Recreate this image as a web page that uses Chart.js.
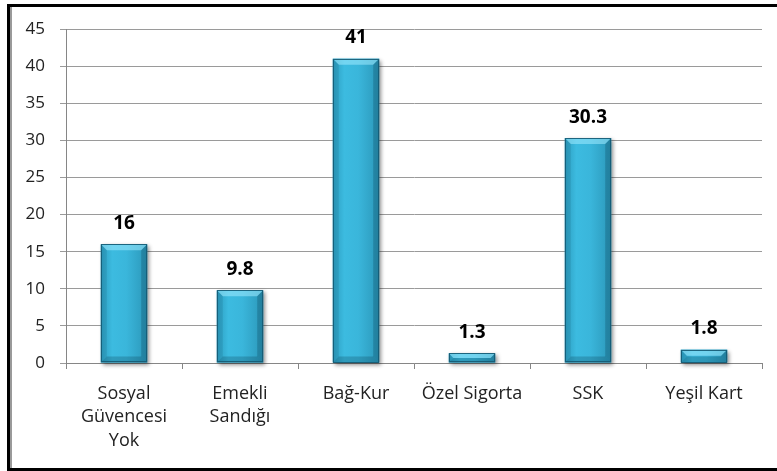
<!DOCTYPE html>
<html><head><meta charset="utf-8">
<script src="https://cdn.jsdelivr.net/npm/chart.js@4/dist/chart.umd.min.js"></script>
<style>html,body{margin:0;padding:0;background:#fff;overflow:hidden}#wrap{position:relative;width:777px;height:471px}canvas{display:block}</style>
</head><body><div id="wrap"><canvas id="c" width="777" height="471"></canvas></div>
<script>
const categories = [['Sosyal', 'Güvencesi', 'Yok'], ['Emekli', 'Sandığı'], 'Bağ-Kur', 'Özel Sigorta', 'SSK', 'Yeşil Kart'];
const values = [16, 9.8, 41, 1.3, 30.3, 1.8];
const valueLabels = ['16', '9.8', '41', '1.3', '30.3', '1.8'];
const yMin = 0, yMax = 45, yStep = 5;

const FONT = "'Open Sans', 'DejaVu Sans', sans-serif";
const BAR_PCT = 0.4;

function barGeom(chart, i) {
  const el = chart.getDatasetMeta(0).data[i];
  return { left: el.x - el.width / 2, right: el.x + el.width / 2, top: el.y, bottom: el.base, x: el.x };
}

const decor = {
  id: 'decor',
  beforeDraw(chart) {
    const c = chart.ctx; c.save(); c.fillStyle = '#fff'; c.fillRect(0, 0, chart.width, chart.height); c.restore();
  },
  beforeDatasetsDraw(chart) {
    const c = chart.ctx; c.save();
    values.forEach((v, i) => {
      const g = barGeom(chart, i);
      c.shadowColor = 'rgba(0,0,0,0.45)'; c.shadowBlur = 4; c.shadowOffsetX = 2; c.shadowOffsetY = 2;
      c.fillStyle = '#2a8fb0';
      c.fillRect(g.left, g.top, g.right - g.left, g.bottom - g.top);
    });
    c.restore();
  },
  afterDatasetsDraw(chart) {
    const c = chart.ctx; c.save();
    values.forEach((v, i) => {
      const g = barGeom(chart, i);
      const h = g.bottom - g.top, w = g.right - g.left;
      const b = Math.min(6, h / 2, w / 2);
      c.beginPath(); c.moveTo(g.left, g.top); c.lineTo(g.right, g.top); c.lineTo(g.right - b, g.top + b); c.lineTo(g.left + b, g.top + b); c.closePath();
      c.fillStyle = 'rgba(160,235,255,0.55)'; c.fill();
      c.beginPath(); c.moveTo(g.left, g.top); c.lineTo(g.left + b, g.top + b); c.lineTo(g.left + b, g.bottom - b); c.lineTo(g.left, g.bottom); c.closePath();
      c.fillStyle = 'rgba(0,40,60,0.10)'; c.fill();
      c.beginPath(); c.moveTo(g.right, g.top); c.lineTo(g.right - b, g.top + b); c.lineTo(g.right - b, g.bottom - b); c.lineTo(g.right, g.bottom); c.closePath();
      c.fillStyle = 'rgba(0,40,60,0.22)'; c.fill();
      c.beginPath(); c.moveTo(g.left, g.bottom); c.lineTo(g.right, g.bottom); c.lineTo(g.right - b, g.bottom - b); c.lineTo(g.left + b, g.bottom - b); c.closePath();
      c.fillStyle = 'rgba(0,40,60,0.22)'; c.fill();
      c.strokeStyle = 'rgba(20,90,115,0.9)'; c.lineWidth = 1;
      c.strokeRect(Math.round(g.left) + 0.5, Math.round(g.top) + 0.5, Math.round(w) - 1, Math.round(h) - 1);
      c.fillStyle = '#000'; c.font = "bold 19px " + FONT; c.textAlign = 'center'; c.textBaseline = 'middle';
      c.fillText(valueLabels[i], g.x, g.top - 21);
    });
    c.restore();
  },
  afterDraw(chart) {
    const c = chart.ctx; c.save();
    c.fillStyle = '#000';
    c.fillRect(7, 4, 777 - 7, 3);
    c.fillRect(7, 4, 3, 467);
    c.fillRect(7, 468, 777 - 7, 3);
    c.fillStyle = '#9a9a9a';
    c.fillRect(10, 7, 2, 461);
    c.restore();
  }
};

new Chart(document.getElementById('c'), {
  type: 'bar',
  data: {
    labels: categories,
    datasets: [{
      data: values,
      barPercentage: BAR_PCT,
      categoryPercentage: 1,
      borderWidth: 0,
      backgroundColor: (ctx) => {
        const chart = ctx.chart;
        const xs = chart.scales && chart.scales.x;
        if (!xs || ctx.dataIndex === undefined) return '#38b3d8';
        const cw = xs.width / categories.length;
        const w = cw * BAR_PCT;
        const cx = xs.getPixelForValue(ctx.dataIndex);
        const x0 = cx - w / 2;
        if (!isFinite(x0) || !isFinite(w) || w <= 0) return '#38b3d8';
        const gr = chart.ctx.createLinearGradient(x0, 0, x0 + w, 0);
        gr.addColorStop(0, '#2c9dc0');
        gr.addColorStop(0.25, '#3cbbe0');
        gr.addColorStop(0.55, '#3ab6db');
        gr.addColorStop(1, '#2b97b9');
        return gr;
      }
    }]
  },
  options: {
    responsive: false,
    animation: false,
    devicePixelRatio: 1,
    layout: { padding: { top: 29, right: 15, left: 0, bottom: 0 } },
    plugins: { legend: { display: false }, tooltip: { enabled: false } },
    scales: {
      x: {
        offset: true,
        grid: { drawOnChartArea: false, drawTicks: true, tickLength: 6, color: '#868686', offset: true },
        border: { display: true, color: '#868686', width: 1 },
        ticks: { color: '#222', font: { family: FONT, size: 18, lineHeight: 1.3 }, padding: 13, maxRotation: 0, autoSkip: false },
        afterFit(s) { s.height = 108; }
      },
      y: {
        min: yMin, max: yMax,
        grid: { color: '#9a9a9a', tickLength: 6, drawTicks: true },
        border: { display: true, color: '#868686', width: 1 },
        ticks: { stepSize: yStep, color: '#222', font: { family: FONT, size: 17 }, padding: 15 },
        afterFit(s) { s.width = 66; }
      }
    }
  },
  plugins: [decor]
});
</script>
</body></html>
